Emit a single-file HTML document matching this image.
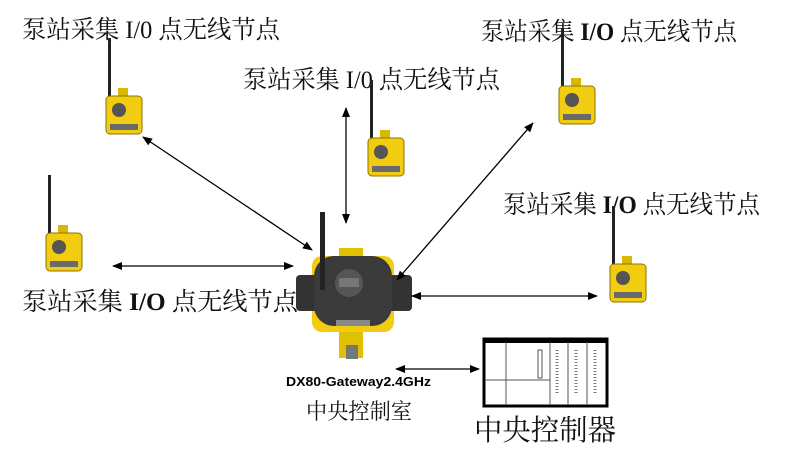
<!DOCTYPE html>
<html><head><meta charset="utf-8"><style>
html,body{margin:0;padding:0;background:#fff;width:792px;height:453px;overflow:hidden}
.t{font-family:"Liberation Serif","Noto Serif CJK SC",serif;fill:#111}
</style></head><body>
<svg width="792" height="453" xmlns="http://www.w3.org/2000/svg">
<defs>
<marker id="a" markerWidth="10" markerHeight="8" refX="9" refY="4" orient="auto-start-reverse" markerUnits="userSpaceOnUse"><path d="M0,0 L10,4 L0,8 z" fill="#000"/></marker>
<g id="node">
<rect x="-2" y="-62" width="3" height="62" fill="#222"/>
<rect x="8" y="-12" width="10" height="10" fill="#d8b800"/>
<rect x="-4" y="-4" width="36" height="38" rx="4" fill="#f2cc10" stroke="#8a7400"/>
<circle cx="9" cy="10" r="7" fill="#555"/>
<rect x="0" y="24" width="28" height="6" fill="#6a6a6a"/>
</g>
</defs>
<text class="t" x="22" y="38" font-size="25" textLength="258" lengthAdjust="spacingAndGlyphs">泵站采集 I/0 点无线节点</text>
<text class="t" x="243" y="88" font-size="25" textLength="257" lengthAdjust="spacingAndGlyphs">泵站采集 I/0 点无线节点</text>
<text class="t" x="481" y="40" font-size="25" textLength="256" lengthAdjust="spacingAndGlyphs">泵站采集 <tspan font-weight="bold">I/O</tspan> 点无线节点</text>
<text class="t" x="503" y="213" font-size="25" textLength="257" lengthAdjust="spacingAndGlyphs">泵站采集 <tspan font-weight="bold">I/O</tspan> 点无线节点</text>
<text class="t" x="22" y="310" font-size="25" textLength="276" lengthAdjust="spacingAndGlyphs">泵站采集 <tspan font-weight="bold">I/O</tspan> 点无线节点</text>

<use href="#node" x="110" y="100"/>
<use href="#node" x="372" y="142"/>
<use href="#node" x="563" y="90"/>
<use href="#node" x="50" y="237"/>
<use href="#node" x="614" y="268"/>

<!-- gateway -->
<rect x="339" y="248" width="24" height="110" fill="#e0c000"/>
<rect x="346" y="345" width="12" height="14" fill="#777"/>
<rect x="312" y="256" width="82" height="76" rx="10" fill="#f2cc10"/>
<rect x="296" y="275" width="116" height="36" rx="4" fill="#333"/>
<rect x="314" y="256" width="78" height="70" rx="20" fill="#3a3a3a"/>
<circle cx="349" cy="283" r="14" fill="#555"/>
<rect x="339" y="278" width="20" height="9" fill="#777"/>
<rect x="320" y="212" width="5" height="78" fill="#222"/>
<rect x="336" y="320" width="34" height="6" fill="#888"/>

<!-- controller -->
<rect x="484" y="339" width="123" height="67" fill="#fff" stroke="#000" stroke-width="3"/>
<rect x="484" y="339" width="123" height="4" fill="#000"/>
<line x1="506" y1="342" x2="506" y2="405" stroke="#555"/>
<line x1="550" y1="342" x2="550" y2="405" stroke="#555"/>
<line x1="568" y1="342" x2="568" y2="405" stroke="#555"/>
<line x1="587" y1="342" x2="587" y2="405" stroke="#555"/>
<line x1="485" y1="380" x2="550" y2="380" stroke="#555"/>
<g stroke="#777" stroke-dasharray="1,2" stroke-width="3">
<line x1="557" y1="350" x2="557" y2="395"/><line x1="576" y1="350" x2="576" y2="395"/><line x1="595" y1="350" x2="595" y2="395"/>
</g>
<rect x="538" y="350" width="4" height="28" fill="none" stroke="#555"/>

<g stroke="#000" stroke-width="1.3" marker-start="url(#a)" marker-end="url(#a)">
<line x1="143" y1="137" x2="312" y2="250"/>
<line x1="346" y1="108" x2="346" y2="223"/>
<line x1="533" y1="123" x2="397" y2="280"/>
<line x1="113" y1="266" x2="293" y2="266"/>
<line x1="412" y1="296" x2="597" y2="296"/>
<line x1="396" y1="369" x2="479" y2="369"/>
</g>

<text x="286" y="386" font-family="Liberation Sans,sans-serif" font-weight="bold" font-size="13" fill="#000" textLength="145" lengthAdjust="spacingAndGlyphs">DX80-Gateway2.4GHz</text>
<text class="t" x="306" y="419" font-size="22" textLength="106" lengthAdjust="spacingAndGlyphs">中央控制室</text>
<text class="t" x="474" y="440" font-size="29" textLength="142" lengthAdjust="spacingAndGlyphs">中央控制器</text>
</svg>
</body></html>
